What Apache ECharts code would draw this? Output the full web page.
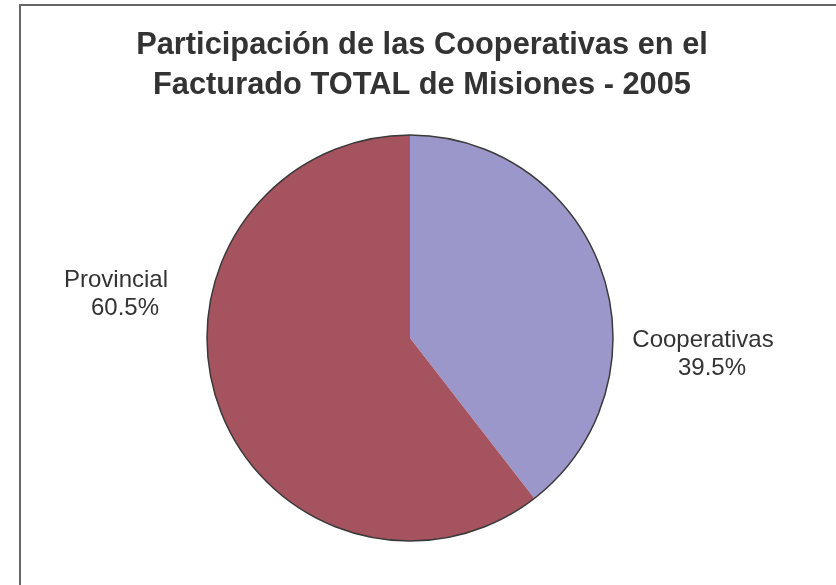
<!DOCTYPE html>
<html>
<head>
<meta charset="utf-8">
<script src="https://cdn.jsdelivr.net/npm/echarts@6/dist/echarts.min.js"></script>
<style>
html,body{margin:0;padding:0;background:#fff;}
#c{width:836px;height:585px;}
</style>
</head>
<body>
<div id="c"></div>
<script>
const titleLines = ['Participación de las Cooperativas en el', 'Facturado TOTAL de Misiones - 2005'];
const categories = ['Cooperativas', 'Provincial'];
const values = [39.5, 60.5];
const colors = ['#9C97CA', '#A5535F'];

// label anchor positions (layout, not data)
const labelAnchors = [[703, 354], [116, 294]];

const chart = echarts.init(document.getElementById('c'), null, {renderer: 'canvas'});
const total = values.reduce((a, b) => a + b, 0);

chart.setOption({
  backgroundColor: '#fff',
  animation: false,
  title: {
    text: titleLines.join('\n'),
    left: 422,
    top: 25,
    textAlign: 'center',
    padding: 0,
    textStyle: {
      fontFamily: 'Liberation Sans, Arial, sans-serif',
      fontSize: 30.8,
      fontWeight: 'bold',
      color: '#333',
      lineHeight: 40.5
    }
  },
  graphic: [{
    type: 'rect',
    shape: {x: 20, y: 5, width: 1000, height: 1000},
    style: {fill: 'none', stroke: '#666', lineWidth: 2},
    silent: true
  }],
  series: [{
    type: 'pie',
    center: [410, 338],
    radius: 203,
    startAngle: 90,
    clockwise: true,
    percentPrecision: 1,
    emphasis: {disabled: true},
    data: categories.map((n, i) => ({name: n, value: values[i], itemStyle: {color: colors[i]}})),
    itemStyle: {borderWidth: 0},
    label: {
      show: true,
      position: 'outside',
      formatter: '{n|{b}}\n{p|{d}%}',
      rich: {
        n: {fontFamily: 'Liberation Sans, Arial, sans-serif', fontSize: 24, color: '#333', lineHeight: 28},
        p: {fontFamily: 'Liberation Sans, Arial, sans-serif', fontSize: 24, color: '#333', lineHeight: 28, padding: [0, 0, 0, 18]}
      }
    },
    labelLine: {show: false},
    labelLayout: function (p) {
      const a = labelAnchors[p.dataIndex];
      return {x: a[0], y: a[1], align: 'center', verticalAlign: 'middle'};
    }
  }, {
    type: 'pie',
    center: [410, 338],
    radius: 203,
    silent: true,
    z: 5,
    emphasis: {disabled: true},
    data: [{name: 'outline', value: total}],
    itemStyle: {color: 'rgba(0,0,0,0)', borderColor: '#3a3a3a', borderWidth: 1.5},
    label: {show: false},
    labelLine: {show: false}
  }]
});
</script>
</body>
</html>
